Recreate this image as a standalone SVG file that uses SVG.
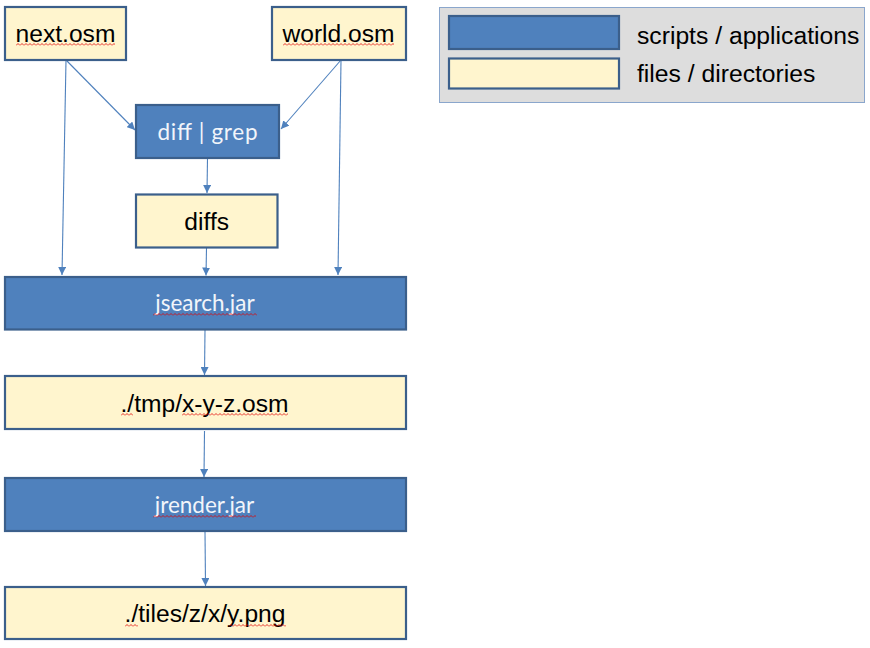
<svg xmlns="http://www.w3.org/2000/svg" width="870" height="648" viewBox="0 0 870 648">
<style>
.app{fill:#4f81bd;stroke:#3b5f8b;stroke-width:2.2}
.file{fill:#fff5ce;stroke:#3b5f8b;stroke-width:2.2}
.t{font-family:"Liberation Sans",Arial,sans-serif;font-size:24.6px;fill:#000;text-anchor:middle}
.tl{font-family:"Liberation Sans",Arial,sans-serif;font-size:24.7px;fill:#000}
.w{font-family:Lato,"Open Sans",sans-serif;font-size:22.5px;fill:#f2f5fa;text-anchor:middle}
.c{stroke:#4f81bd;stroke-width:1.1;fill:none;marker-end:url(#ah)}
.sq{fill:url(#wave)}
</style>
<defs>
<marker id="ah" viewBox="0 0 10 10" refX="10" refY="5" markerWidth="8" markerHeight="8" markerUnits="userSpaceOnUse" orient="auto">
<path d="M0,0 L10,5 L0,10 z" fill="#4f81bd"/>
</marker>
<pattern id="wave" width="4" height="3" patternUnits="userSpaceOnUse">
<path d="M0,2.5 L2,0.5 L4,2.5" stroke="#e00000" stroke-width="0.8" fill="none"/>
</pattern>
</defs>

<g id="legend">
<rect x="439.5" y="7.5" width="425" height="95" fill="#dddddd" stroke="#8aa6cc" stroke-width="1"/>
<rect x="449" y="16" width="170" height="33" class="app"/>
<rect x="449" y="58.5" width="170" height="30" class="file"/>
<text x="637" y="43.5" class="tl">scripts / applications</text>
<text x="637" y="82" class="tl">files / directories</text>
</g>

<g id="connectors">
<line x1="66" y1="60" x2="62" y2="275" class="c"/>
<line x1="66" y1="60" x2="135" y2="130" class="c"/>
<line x1="341" y1="60" x2="281" y2="129" class="c"/>
<line x1="341" y1="60" x2="338" y2="275" class="c"/>
<line x1="207.5" y1="158" x2="207" y2="193" class="c"/>
<line x1="206.5" y1="248" x2="206" y2="275.5" class="c"/>
<line x1="205" y1="330" x2="204.5" y2="375" class="c"/>
<line x1="204.5" y1="431" x2="204" y2="477" class="c"/>
<line x1="205" y1="531" x2="205.5" y2="586" class="c"/>
</g>

<g id="next">
<rect x="5" y="7" width="121" height="53" class="file"/>
<text x="65.5" y="42" class="t">next.osm</text>
<rect transform="translate(16,43)" width="99" height="3" class="sq"/>
</g>
<g id="world">
<rect x="272" y="7" width="134" height="53" class="file"/>
<text x="338.5" y="42" class="t">world.osm</text>
<rect transform="translate(283,43)" width="111" height="3" class="sq"/>
</g>
<g id="diffgrep">
<rect x="136" y="105" width="143" height="53" class="app"/>
<text x="207.5" y="140" class="w" textLength="100" lengthAdjust="spacing">diff | grep</text>
</g>
<g id="diffs">
<rect x="136" y="194.5" width="141.5" height="53" class="file"/>
<text x="206.7" y="230" class="t">diffs</text>
</g>
<g id="jsearch">
<rect x="5" y="277" width="401" height="52.5" class="app"/>
<text x="205" y="311" class="w">jsearch.jar</text>
<rect transform="translate(153,313)" width="104" height="3" class="sq"/>
</g>
<g id="tmp">
<rect x="5" y="376" width="401" height="53" class="file"/>
<text x="204.5" y="411.5" class="t">./tmp/x-y-z.osm</text>
<rect transform="translate(121,413)" width="12" height="3" class="sq"/>
<rect transform="translate(182,413)" width="106" height="3" class="sq"/>
</g>
<g id="jrender">
<rect x="5" y="478" width="401" height="53" class="app"/>
<text x="204.5" y="513" class="w">jrender.jar</text>
<rect transform="translate(153,515)" width="103" height="3" class="sq"/>
</g>
<g id="tiles">
<rect x="5" y="587" width="401" height="52" class="file"/>
<text x="205" y="621.5" class="t">./tiles/z/x/y.png</text>
<rect transform="translate(125,624)" width="13" height="3" class="sq"/>
<rect transform="translate(229,624)" width="57" height="3" class="sq"/>
</g>
</svg>
